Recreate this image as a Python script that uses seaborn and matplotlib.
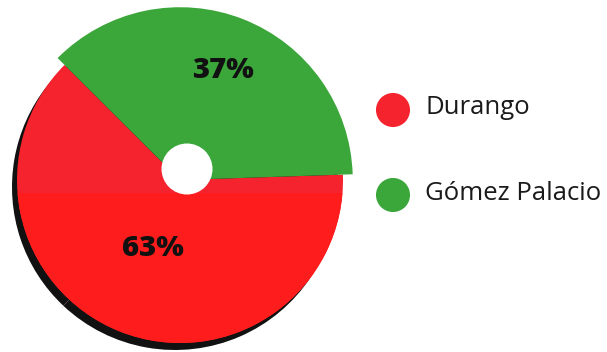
import matplotlib
matplotlib.use("Agg")
import matplotlib.pyplot as plt
from matplotlib.patches import Rectangle, Circle
import numpy as np
import seaborn as sns

# Share of the two municipalities
categories = ["Durango", "Gómez Palacio"]
shares = [63, 37]
colors = ["#F4232D", "#3BA63A"]

sns.set_theme(style="white")
plt.rcParams["font.family"] = ["Open Sans", "DejaVu Sans"]

W, H = 607, 352
fig = plt.figure(figsize=(W / 100, H / 100), dpi=100)
ax = fig.add_axes([0, 0, 1, 1])

cx, cy, R = 180, H - 180, 163

# drop shadow under the disc
ax.pie(shares, radius=R, center=(cx - 5, cy - 7), colors=["#111111", "#111111"],
       startangle=0, wedgeprops=dict(linewidth=0))

wedges, _ = ax.pie(shares, radius=R, center=(cx, cy), colors=colors,
                   startangle=248.5 - 0.63 * 180, counterclock=True,
                   wedgeprops=dict(linewidth=0))
# the green slice sticks out a little beyond the disc
wedges[1].set_radius(R * 1.06)

# slightly brighter lower half of the red slice
lower = Rectangle((0, 0), W, H - 193, facecolor="#FF1C1C", edgecolor="none",
                  zorder=wedges[0].get_zorder() + 0.1)
ax.add_patch(lower)
lower.set_clip_path(wedges[0])

# centre hole
ax.add_patch(Circle((187, H - 169), 25.5, facecolor="white", edgecolor="none", zorder=5))

# percentage labels
label_dist = [0.45, 0.72]
for w, v, d in zip(wedges, shares, label_dist):
    mid = np.deg2rad((w.theta1 + w.theta2) / 2)
    x = cx + d * R * np.cos(mid)
    y = cy + d * R * np.sin(mid)
    ax.text(x, y, f"{v}%", ha="center", va="center", fontsize=21,
            fontweight="heavy", color="#111111", zorder=6)

# legend
for i, (name, col) in enumerate(zip(categories, colors)):
    y = H - (110 + 85 * i)
    ax.scatter([393], [y], s=34 ** 2 * 0.52, color=col, edgecolor="none", zorder=6)
    ax.text(425, y + 2, name, ha="left", va="center", fontsize=18.5, color="#1a1a1a", zorder=6)

ax.set_xlim(0, W)
ax.set_ylim(0, H)
ax.set_aspect("auto")
ax.axis("off")
fig.savefig("out.png", dpi=100, facecolor="white")
